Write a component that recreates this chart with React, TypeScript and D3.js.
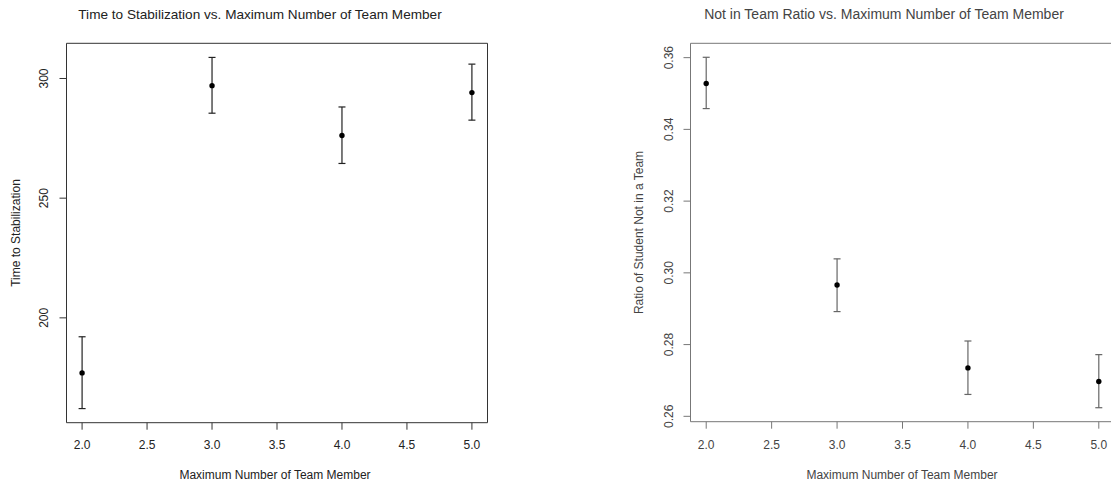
import React from "react";
import * as d3 from "d3";

// ---------- data ----------
const teamSizes = [2, 3, 4, 5];
const xTicks = [2.0, 2.5, 3.0, 3.5, 4.0, 4.5, 5.0];

const stabMean = [177, 297, 276.2, 294.1];
const stabLower = [162.1, 285.5, 264.5, 282.6];
const stabUpper = [192.1, 308.8, 288.1, 306];
const stabTicks = [200, 250, 300];

const ratioMean = [0.3528, 0.2966, 0.2735, 0.2697];
const ratioLower = [0.3458, 0.2892, 0.2661, 0.2624];
const ratioUpper = [0.3601, 0.3039, 0.281, 0.2772];
const ratioTicks = [0.26, 0.28, 0.3, 0.32, 0.34, 0.36];

const FONT = "'Liberation Sans', Arial, Helvetica, sans-serif";

type PanelProps = {
  title: string;
  titleX: number;
  titleSize: number;
  xLabel: string;
  xLabelX: number;
  yLabel: string;
  yLabelX: number;
  yTickLabelX: number;
  left: number;
  right: number;
  top: number;
  bottom: number;
  yDomain: [number, number];
  yTicks: number[];
  yFmt: (v: number) => string;
  mean: number[];
  lower: number[];
  upper: number[];
  lineColor: string;
  barColor: string;
  textColor: string;
  showRight: boolean;
};

function Panel(p: PanelProps) {
  const x = d3.scaleLinear().domain([1.88, 5.12]).range([p.left, p.right]);
  const y = d3.scaleLinear().domain(p.yDomain).range([p.bottom, p.top]);
  const tickLen = 7;
  const cap = 3.5;
  return (
    <g fontFamily={FONT}>
      <text x={p.titleX} y={19} textAnchor="middle" fontSize={p.titleSize} fill={p.textColor}>
        {p.title}
      </text>
      {/* box */}
      <path
        d={
          p.showRight
            ? `M${p.left},${p.top}H${p.right}V${p.bottom}H${p.left}Z`
            : `M${1111 + 5},${p.top}H${p.left}V${p.bottom}H${1111 + 5}`
        }
        fill="none"
        stroke={p.lineColor}
        strokeWidth={1}
      />
      {/* x axis */}
      {xTicks.map((t) => (
        <g key={"x" + t}>
          <line x1={x(t)} x2={x(t)} y1={p.bottom} y2={p.bottom + tickLen} stroke={p.lineColor} />
          <text x={x(t)} y={449} textAnchor="middle" fontSize={12} fill={p.textColor}>
            {t.toFixed(1)}
          </text>
        </g>
      ))}
      <text x={p.xLabelX} y={479} textAnchor="middle" fontSize={12} fill={p.textColor}>
        {p.xLabel}
      </text>
      {/* y axis */}
      {p.yTicks.map((t) => (
        <g key={"y" + t}>
          <line x1={p.left - tickLen} x2={p.left} y1={y(t)} y2={y(t)} stroke={p.lineColor} />
          <text
            transform={`translate(${p.yTickLabelX},${y(t)}) rotate(-90)`}
            textAnchor="middle"
            fontSize={12}
            fill={p.textColor}
          >
            {p.yFmt(t)}
          </text>
        </g>
      ))}
      <text
        transform={`translate(${p.yLabelX},${(p.top + p.bottom) / 2}) rotate(-90)`}
        textAnchor="middle"
        fontSize={12}
        fill={p.textColor}
      >
        {p.yLabel}
      </text>
      {/* error bars + points */}
      {teamSizes.map((s, i) => (
        <g key={"e" + s}>
          <line x1={x(s)} x2={x(s)} y1={y(p.lower[i])} y2={y(p.upper[i])} stroke={p.barColor} strokeWidth={1.2} />
          <line x1={x(s) - cap} x2={x(s) + cap} y1={y(p.lower[i])} y2={y(p.lower[i])} stroke={p.barColor} strokeWidth={1.2} />
          <line x1={x(s) - cap} x2={x(s) + cap} y1={y(p.upper[i])} y2={y(p.upper[i])} stroke={p.barColor} strokeWidth={1.2} />
          <circle cx={x(s)} cy={y(p.mean[i])} r={2.7} fill="#000" />
        </g>
      ))}
    </g>
  );
}

export default function App() {
  return (
    <svg
      width={1111}
      height={485}
      style={{ position: "absolute", left: 0, top: 0, background: "#fff" }}
    >
      <rect width={1111} height={485} fill="#fff" />
      <Panel
        title="Time to Stabilization vs. Maximum Number of Team Member"
        titleX={260}
        titleSize={13.6}
        xLabel="Maximum Number of Team Member"
        xLabelX={275}
        yLabel="Time to Stabilization"
        yLabelX={20}
        yTickLabelX={48}
        left={66.5}
        right={487.5}
        top={43.3}
        bottom={422.7}
        yDomain={[156.2, 314.7]}
        yTicks={stabTicks}
        yFmt={(v) => String(v)}
        mean={stabMean}
        lower={stabLower}
        upper={stabUpper}
        lineColor="#333"
        barColor="#222"
        textColor="#222"
        showRight={true}
      />
      <Panel
        title="Not in Team Ratio vs. Maximum Number of Team Member"
        titleX={884}
        titleSize={14}
        xLabel="Maximum Number of Team Member"
        xLabelX={902}
        yLabel="Ratio of Student Not in a Team"
        yLabelX={643}
        yTickLabelX={673}
        left={690.5}
        right={1114.5}
        top={43.3}
        bottom={421.7}
        yDomain={[0.2585, 0.364]}
        yTicks={ratioTicks}
        yFmt={(v) => v.toFixed(2)}
        mean={ratioMean}
        lower={ratioLower}
        upper={ratioUpper}
        lineColor="#777"
        barColor="#666"
        textColor="#444"
        showRight={false}
      />
    </svg>
  );
}
